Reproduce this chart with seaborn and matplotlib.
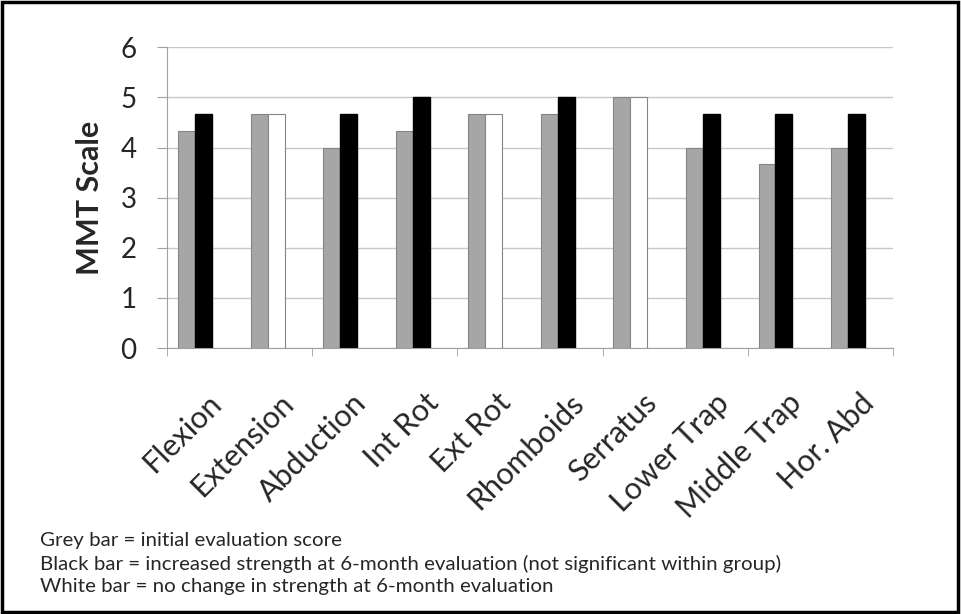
import numpy as np
import pandas as pd
import seaborn as sns
import matplotlib.pyplot as plt
import matplotlib.transforms as mtransforms
from matplotlib.patches import Rectangle

# data
muscles = ["Flexion", "Extension", "Abduction", "Int Rot", "Ext Rot",
           "Rhomboids", "Serratus", "Lower Trap", "Middle Trap", "Hor. Abd"]
initial = [4.33, 4.67, 4.0, 4.33, 4.67, 4.67, 5.0, 4.0, 3.67, 4.0]
six_month = [4.67, 4.67, 4.67, 5.0, 4.67, 5.0, 5.0, 4.67, 4.67, 4.67]
changed = [True, False, True, True, False, True, False, True, True, True]
notes = ["Grey bar = initial evaluation score",
         "Black bar = increased strength at 6-month evaluation (not significant within group)",
         "White bar = no change in strength at 6-month evaluation"]

# the original Excel chart leaves an empty third slot in every group
df = pd.DataFrame({"muscle": muscles * 3,
                   "score": initial + six_month + [0.0] * len(muscles),
                   "eval": (["initial"] * len(muscles) + ["6 month"] * len(muscles)
                            + ["blank"] * len(muscles))})

sns.set_style("white")
plt.rcParams['font.family'] = ['Lato', 'DejaVu Sans']

fig = plt.figure(figsize=(9.61, 6.14), dpi=100)
ax = fig.add_axes([0.174, 0.433, 0.755, 0.49])

sns.barplot(data=df, x="muscle", y="score", hue="eval", order=muscles,
            hue_order=["initial", "6 month", "blank"],
            palette=["#a6a6a6", "black", "white"],
            width=0.70, ax=ax, legend=False)

for bar in ax.containers[0]:
    bar.set_edgecolor("#858585")
    bar.set_linewidth(0.8)
for bar, ch in zip(ax.containers[1], changed):
    if not ch:
        bar.set_facecolor("white")
        bar.set_edgecolor("#858585")
        bar.set_linewidth(0.8)
    else:
        bar.set_edgecolor("black")
for bar in ax.containers[2]:
    bar.set_visible(False)

ax.set_ylim(0, 6)
ax.set_xlim(-0.5, len(muscles) - 0.5)
ax.set_yticks(range(7))
ax.tick_params(axis="y", labelsize=20, length=7, color="#a0a0a0", left=True, pad=15)
ax.yaxis.grid(True, color="#c8c8c8", linewidth=1)
ax.set_axisbelow(True)

ax.set_xticks(range(len(muscles)))
ax.set_xticklabels(muscles, rotation=45, ha="right", rotation_mode="anchor", fontsize=22)
ax.tick_params(axis="x", which="major", length=0, pad=29)
shift = mtransforms.ScaledTranslation(3 / 100, 0, fig.dpi_scale_trans)
for lbl in ax.get_xticklabels():
    lbl.set_transform(lbl.get_transform() + shift)
ax.set_xticks(np.arange(-0.5, len(muscles), 2), minor=True)
ax.tick_params(axis="x", which="minor", length=6, color="#a0a0a0", bottom=True)

ax.set_xlabel("")
ax.set_ylabel("MMT Scale", fontsize=22, fontweight="bold", labelpad=12)

for side in ["top", "right"]:
    ax.spines[side].set_visible(False)
for side in ["left", "bottom"]:
    ax.spines[side].set_color("#a0a0a0")

note_texts = []
for i, line in enumerate(notes):
    note_texts.append(fig.text(0.042, 0.119 - i * 0.0375, line, fontsize=13, va="center"))

# size the footnote so the long line spans about as far as in the original
fig.canvas.draw()
renderer = fig.canvas.get_renderer()
width = note_texts[1].get_window_extent(renderer).width
size = 13 * 738 / width
for t in note_texts:
    t.set_fontsize(size)

fig.patches.append(Rectangle((0.002, 0.003), 0.995, 0.994, transform=fig.transFigure,
                             fill=False, edgecolor="black", linewidth=2.5))

fig.savefig("out.png", dpi=100)
